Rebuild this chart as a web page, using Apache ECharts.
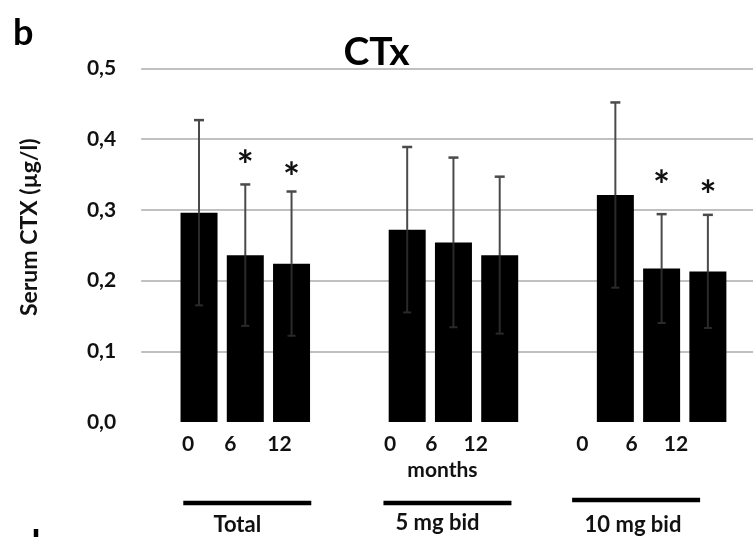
<!DOCTYPE html>
<html><head><meta charset="utf-8">
<script src="https://cdn.jsdelivr.net/npm/echarts@6/dist/echarts.min.js"></script>
<style>html,body{margin:0;padding:0;background:#fff}#c{width:753px;height:537px}</style>
</head><body><div id="c"></div>
<script>
// ---- data ----
const chartTitle = 'CTx';
const panelLetter = 'b';
const nextPanelLetter = 'd';
const yAxisTitle = 'Serum CTX (µg/l)';
const xAxisTitle = 'months';
const groups = ['Total', '5 mg bid', '10 mg bid'];
const monthLabels = ['0', '6', '12'];
const meanTotal = [0.296, 0.236, 0.224];
const mean5mg   = [0.272, 0.254, 0.236];
const mean10mg  = [0.321, 0.217, 0.213];
const sdTotal = [0.131, 0.100, 0.102];
const sd5mg   = [0.117, 0.120, 0.111];
const sd10mg  = [0.131, 0.077, 0.080];
// asterisk (significance) heights, null = none
const starTotal = [null, 0.373, 0.356];
const star5mg   = [null, null, null];
const star10mg  = [null, 0.345, 0.330];
const yMin = 0, yMax = 0.5, yStep = 0.1;

// ---- layout helpers (styling only) ----
const means = [meanTotal, mean5mg, mean10mg];
const sds = [sdTotal, sd5mg, sd10mg];
const stars = [starTotal, star5mg, star10mg];
const nCat = 27;
const catIdx = (g, m) => 2 + 9 * g + 2 * m;
const cats = Array.from({length: nCat}, (_, i) => 'c' + i);
const labelMap = {};
const labelShift = [[-11, -15, -12], [-17, -22, -24], [-33, -30, -32]];
const rich = {};
groups.forEach((gName, g) => monthLabels.forEach((lab, m) => {
  const k = 'r' + g + m;
  labelMap[cats[catIdx(g, m)]] = '{' + k + '|' + lab + '}';
  rich[k] = {padding: [0, -2 * labelShift[g][m], 0, 0], fontFamily: 'Lato', fontWeight: 'bold', fontSize: 21, color: '#111'};
}));

const barData = [], errData = [], starData = [];
groups.forEach((gName, g) => monthLabels.forEach((lab, m) => {
  const c = cats[catIdx(g, m)];
  barData.push([c, means[g][m]]);
  errData.push([c, means[g][m] - sds[g][m], means[g][m] + sds[g][m], means[g][m]]);
  if (stars[g][m] != null) starData.push([c, stars[g][m]]);
}));

const FONT = 'Lato';
const STAR_FS = 40;
const chart = echarts.init(document.getElementById('c'), null, {renderer: 'canvas'});
const option = {
  animation: false,
  backgroundColor: '#fff',
  title: {text: chartTitle, left: 'center', top: 33, padding: 0,
    textStyle: {fontFamily: FONT, fontWeight: 'bold', fontSize: 39, color: '#000'}},
  grid: {left: 141.2, right: -12.7, top: 68.5, bottom: 115, outerBoundsMode: 'none', containLabel: false},
  xAxis: {
    type: 'category', data: cats, boundaryGap: true,
    axisLine: {show: false}, axisTick: {show: false},
    axisLabel: {interval: 0, margin: 12, formatter: v => labelMap[v] || '', rich: rich}
  },
  yAxis: {
    type: 'value', min: yMin, max: yMax, interval: yStep,
    name: yAxisTitle, nameLocation: 'middle', nameGap: 100, nameRotate: 90,
    nameTextStyle: {fontFamily: FONT, fontWeight: 'bold', fontSize: 23, color: '#111', padding: [0, 0, 0, 36]},
    axisLine: {show: false}, axisTick: {show: false},
    axisLabel: {margin: 25, fontFamily: FONT, fontWeight: 'bold', fontSize: 21, color: '#111',
      formatter: v => v.toFixed(1).replace('.', ',')},
    splitLine: {show: true, showMinLine: false, lineStyle: {color: '#ababab', width: 1.6}}
  },
  series: [
    {type: 'bar', data: barData, barWidth: 37, itemStyle: {color: '#000'}, z: 2},
    {type: 'custom', data: errData, z: 3,
      renderItem: (params, api) => {
        const c = api.value(0);
        const lo = api.coord([c, api.value(1)]);
        const hi = api.coord([c, api.value(2)]);
        const mid = api.coord([c, api.value(3)]);
        const hw = 5;
        return {type: 'group', children: [
          {type: 'line', shape: {x1: hi[0], y1: hi[1], x2: mid[0], y2: mid[1]}, style: {stroke: '#4a4a4a', lineWidth: 2}},
          {type: 'line', shape: {x1: mid[0], y1: mid[1], x2: lo[0], y2: lo[1]}, style: {stroke: '#2a2a2a', lineWidth: 2}},
          {type: 'line', shape: {x1: hi[0] - hw, y1: hi[1], x2: hi[0] + hw, y2: hi[1]}, style: {stroke: '#4a4a4a', lineWidth: 2.5}},
          {type: 'line', shape: {x1: lo[0] - 4, y1: lo[1], x2: lo[0] + 4, y2: lo[1]}, style: {stroke: '#2a2a2a', lineWidth: 2}}
        ]};
      }},
    {type: 'custom', data: starData, z: 4,
      renderItem: (params, api) => {
        const p = api.coord([api.value(0), api.value(1)]);
        return {type: 'text', x: p[0], y: p[1] + 0.22 * STAR_FS,
          style: {text: '*', align: 'center', verticalAlign: 'middle', fontFamily: FONT, fontWeight: 'bold', fontSize: STAR_FS, fill: '#111'}};
      }}
  ]
};
chart.setOption(option);

// annotations positioned through the axis scales
const base = chart.convertToPixel({gridIndex: 0}, [cats[catIdx(1, 1)], 0]);
const graphics = [];
graphics.push({type: 'text', x: base[0] - 11, y: base[1] + 48,
  style: {text: xAxisTitle, align: 'center', verticalAlign: 'middle', fontFamily: FONT, fontWeight: 'bold', fontSize: 21, fill: '#111'}});
const lineShift = [2, -6, -25.5];
const lineDy = [81, 81, 78];
const labShift = [-8, -16, -28.6];
const labDy = [103, 101, 103];
groups.forEach((gName, g) => {
  const p = chart.convertToPixel({gridIndex: 0}, [cats[catIdx(g, 1)], 0]);
  const cx = p[0] + lineShift[g];
  graphics.push({type: 'line', shape: {x1: cx - 64, y1: p[1] + lineDy[g], x2: cx + 64, y2: p[1] + lineDy[g]},
    style: {stroke: '#000', lineWidth: 4.5}});
  graphics.push({type: 'text', x: p[0] + labShift[g], y: p[1] + labDy[g],
    style: {text: gName, align: 'center', verticalAlign: 'middle', fontFamily: FONT, fontWeight: 'bold', fontSize: 22, fill: '#111'}});
});
graphics.push({type: 'text', x: 13, y: 33,
  style: {text: panelLetter, align: 'left', verticalAlign: 'middle', fontFamily: FONT, fontWeight: 'bold', fontSize: 36, fill: '#000'}});
graphics.push({type: 'text', x: 20, y: 33 + 511,
  style: {text: nextPanelLetter, align: 'left', verticalAlign: 'middle', fontFamily: FONT, fontWeight: 'bold', fontSize: 36, fill: '#000'}});
chart.setOption({graphic: graphics});
</script></body></html>
